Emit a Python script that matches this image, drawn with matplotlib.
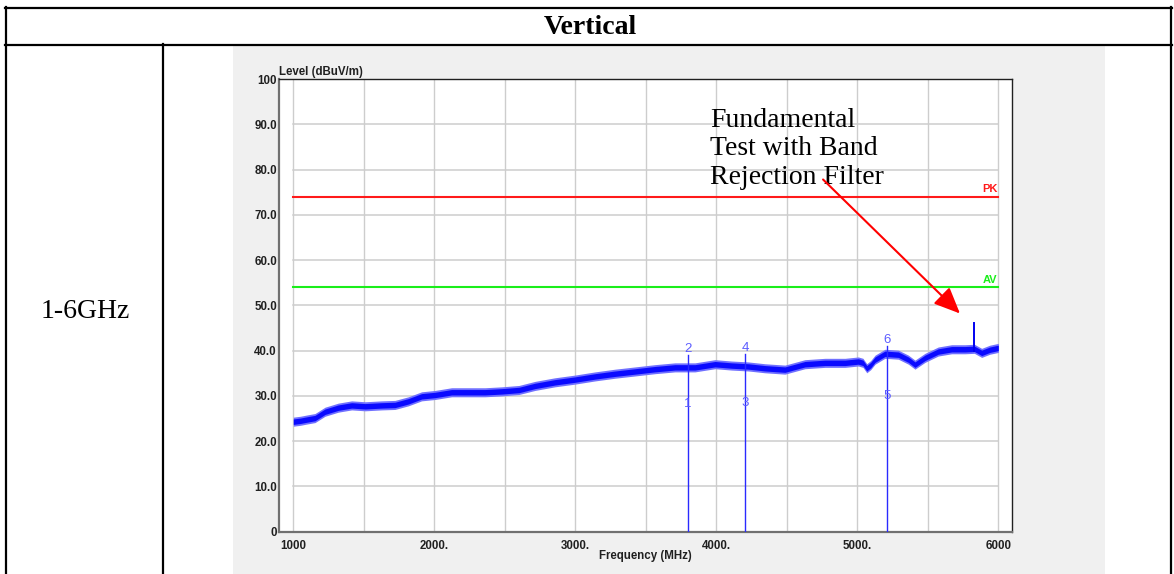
"""
Radiated emission plot (1-6 GHz, vertical) inside a report table cell
"""
import matplotlib
matplotlib.use('Agg')
import matplotlib.pyplot as plt
from matplotlib.patches import Rectangle

# Table texts
header_text = 'Vertical'
range_text = '1-6GHz'
note_text = 'Fundamental\nTest with Band\nRejection Filter'

trace_freq = [1000, 1050, 1100, 1154, 1225, 1319, 1414, 1509, 1627, 1721,
              1816, 1910, 2005, 2123, 2241, 2360, 2478, 2600, 2714, 2856,
              2998, 3140, 3282, 3424, 3565, 3707, 3849, 3991, 4109, 4227,
              4345, 4487, 4629, 4771, 4913, 5007, 5040, 5067, 5095, 5126,
              5196, 5291, 5362, 5409, 5480, 5574, 5669, 5764, 5830, 5882,
              5940, 6000]
trace_level = [24.3, 24.5, 24.8, 25.1, 26.5, 27.4, 27.9, 27.7, 27.9, 28.0,
               28.8, 29.9, 30.2, 30.8, 30.8, 30.8, 31.0, 31.3, 32.2, 33.0,
               33.6, 34.3, 34.9, 35.4, 35.9, 36.3, 36.3, 37.0, 36.7, 36.5,
               36.1, 35.8, 37.0, 37.3, 37.3, 37.6, 37.3, 36.1, 36.8, 38.0,
               39.3, 39.1, 38.0, 36.9, 38.4, 39.8, 40.3, 40.3, 40.4, 39.5,
               40.2, 40.6]

# Fundamental leakage spike
spike_freq = 5830
spike_level = 46.2

# Limit lines
limit_names = ['PK', 'AV']
limit_levels = [74.0, 54.0]
limit_colors = ['#ff1a1a', '#1aee1a']

# Markers: (frequency, peak reading, average reading)
marker_freq = [3800, 4203, 5210]
marker_peak = [39.0, 39.2, 41.0]
marker_avg = [26.9, 27.0, 28.6]
marker_peak_ids = ['2', '4', '6']
marker_avg_ids = ['1', '3', '5']

x_ticks = [1000, 2000, 3000, 4000, 5000, 6000]
x_tick_labels = ['1000', '2000.', '3000.', '4000.', '5000.', '6000']
y_ticks = [0, 10, 20, 30, 40, 50, 60, 70, 80, 90, 100]
y_tick_labels = ['0', '10.0', '20.0', '30.0', '40.0', '50.0', '60.0',
                 '70.0', '80.0', '90.0', '100']

W, H = 1174, 574


def draw_table(fig):
    """Table frame, gray chart panel and cell texts (pixel coords)"""
    bg = fig.add_axes([0, 0, 1, 1])
    bg.set_xlim(0, W)
    bg.set_ylim(H, 0)
    bg.axis('off')

    bg.add_patch(Rectangle((233, 46), 872, H - 46, facecolor='#f0f0f0',
                           edgecolor='none'))
    lw = 1.6
    bg.plot([5, 1172], [7.5, 7.5], color='black', lw=lw)
    bg.plot([5, 1172], [44.5, 44.5], color='black', lw=lw)
    bg.plot([6, 6], [7, H], color='black', lw=lw)
    bg.plot([1171, 1171], [7, H], color='black', lw=lw)
    bg.plot([163, 163], [44, H], color='black', lw=lw)

    bg.text(590, 27, header_text, fontsize=20, fontweight='bold',
            family='Liberation Serif', ha='center', va='center')
    bg.text(85, 312, range_text, fontsize=20, family='Liberation Serif',
            ha='center', va='center')


def draw_scan(fig):
    """EMI scan chart"""
    ax = fig.add_axes([279 / W, (H - 531.7) / H, (1012 - 279) / W,
                       (531.7 - 79) / H])
    ax.set_facecolor('white')
    ax.set_xlim(898.6, 6097)
    ax.set_ylim(0, 100)

    # Grid only spans the 1000-6000 MHz range
    grid_c = '#cdcdcd'
    for y in y_ticks[1:-1]:
        ax.plot([1000, 6000], [y, y], color=grid_c, lw=1.1, zorder=1)
    for x in range(1000, 6001, 500):
        ax.plot([x, x], [0, 100], color=grid_c, lw=1.0, zorder=1)

    # Limit lines
    for name, level, color in zip(limit_names, limit_levels, limit_colors):
        ax.plot([1000, 6000], [level, level], color=color, lw=1.5, zorder=3)
        ax.text(5995, level + 0.6, name, color=color, fontsize=8,
                fontweight='bold', family='Liberation Sans',
                ha='right', va='bottom')

    # Trace: light noise fringe plus dark core
    ax.fill_between(trace_freq, [v - 1.0 for v in trace_level],
                    [v + 1.0 for v in trace_level], color='#7070ff', lw=0,
                    zorder=4)
    ax.fill_between(trace_freq, [v - 0.6 for v in trace_level],
                    [v + 0.6 for v in trace_level], color='#0a0aff', lw=0,
                    zorder=5)
    ax.plot([spike_freq, spike_freq], [40.0, spike_level], color='#0000f0',
            lw=1.4, zorder=5)

    # Markers
    for f, pk, av, pid, aid in zip(marker_freq, marker_peak, marker_avg,
                                   marker_peak_ids, marker_avg_ids):
        ax.plot([f, f], [0, pk], color='#2a2aff', lw=1.0, zorder=6)
        ax.text(f, pk, pid, color='#5c5cff', fontsize=9.5,
                family='Liberation Sans', ha='center', va='bottom', zorder=7)
        ax.text(f, av, aid, color='#5c5cff', fontsize=9.5,
                family='Liberation Sans', ha='center', va='bottom', zorder=7)

    # Note and arrow (baseline aligns the last line)
    ax.text(3954, 76.9, note_text, fontsize=20, family='Liberation Serif',
            ha='left', va='baseline', linespacing=1.17, zorder=8)
    ax.annotate('', xy=(5728, 48.2), xytext=(4757, 77.8),
                arrowprops=dict(arrowstyle='-|>,head_length=0.8,head_width=0.35',
                                color='red', lw=1.5, shrinkA=0, shrinkB=0,
                                mutation_scale=20),
                zorder=8)

    # Axes frame
    for side in ['top', 'right']:
        ax.spines[side].set_color('#202020')
        ax.spines[side].set_linewidth(1.0)
    for side in ['left', 'bottom']:
        ax.spines[side].set_color('#707070')
        ax.spines[side].set_linewidth(1.6)

    tick_font = dict(fontsize=8.3, fontweight='bold', family='Liberation Sans',
                     color='#202020')
    ax.set_xticks(x_ticks)
    ax.set_xticklabels(x_tick_labels, **tick_font)
    ax.set_yticks(y_ticks)
    ax.set_yticklabels(y_tick_labels, **tick_font)
    ax.tick_params(axis='both', length=0)
    ax.tick_params(axis='x', pad=6)
    ax.tick_params(axis='y', pad=1.5)

    ax.set_xlabel('Frequency (MHz)', labelpad=-1.5, **tick_font)
    ax.text(0, 1.009, 'Level (dBuV/m)', transform=ax.transAxes,
            ha='left', va='baseline', **tick_font)
    return ax


def main():
    """Main execution"""
    fig = plt.figure(figsize=(W / 100, H / 100), dpi=100)
    fig.patch.set_facecolor('white')
    draw_table(fig)
    draw_scan(fig)
    fig.savefig('out.png', dpi=100)
    plt.close(fig)


if __name__ == '__main__':
    main()
